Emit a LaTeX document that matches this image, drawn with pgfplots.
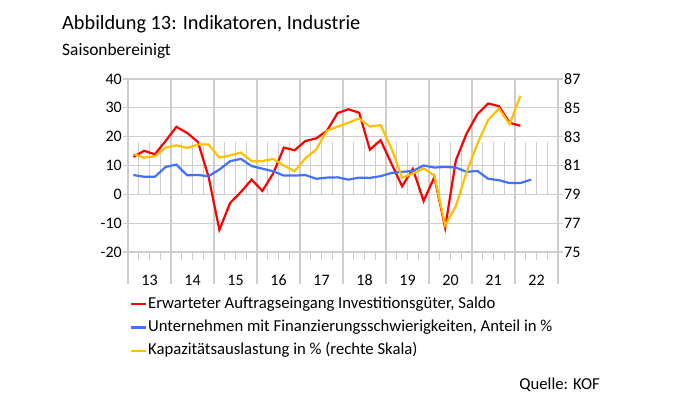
\documentclass[border=0pt]{standalone}
\usepackage{pgfplots}
\pgfplotsset{compat=1.18}
\usepackage{fontspec}
\setmainfont{Carlito}
\definecolor{cred}{RGB}{255,0,0}
\definecolor{cblue}{RGB}{66,112,255}
\definecolor{cyel}{RGB}{255,192,0}
\definecolor{cgrid}{RGB}{205,205,205}

\begin{document}
\begin{tikzpicture}
\path (0,0) rectangle (695bp,-395bp);
\node[anchor=base west,inner sep=0pt,font=\fontsize{20.3bp}{22bp}\selectfont] at (62bp,-29bp) {Abbildung 13: Indikatoren, Industrie};
\node[anchor=base west,inner sep=0pt,font=\fontsize{17.4bp}{19bp}\selectfont] at (62bp,-55bp) {Saisonbereinigt};
\node[anchor=base east,inner sep=0pt,font=\fontsize{16.7bp}{18bp}\selectfont] at (600bp,-389bp) {Quelle: KOF};

\begin{axis}[
  at={(128bp,-252bp)}, anchor=south west,
  scale only axis, width=430bp, height=173bp,
  xmin=0, xmax=40, ymin=-20, ymax=40,
  axis line style={cgrid, line width=1.2bp},
  every tick/.style={cgrid, line width=1.2bp},
  tick align=outside,
  xtick pos=bottom, ytick pos=left,
  xtick={2,6,...,38},
  xticklabels={13,14,15,16,17,18,19,20,21,22},
  major tick length=5bp,
  major x tick style={draw=none},
  minor xtick={1,2,3,5,6,7,9,10,11,13,14,15,17,18,19,21,22,23,25,26,27,29,30,31,33,34,35,37,38,39},
  minor tick length=8bp,
  extra x ticks={0,4,...,40},
  extra x tick labels={},
  extra x tick style={grid=major, major tick length=32bp, major x tick style={draw=cgrid, line width=1.2bp}},
  ytick={-20,-10,0,10,20,30,40},
  yticklabels={-20,-10,0,10,20,30,40},
  ymajorgrids,
  grid style={cgrid, line width=1.2bp},
  ticklabel style={font=\fontsize{16bp}{18bp}\selectfont, text=black, inner xsep=0pt},
  xticklabel style={anchor=base, yshift=-28.7bp},
  yticklabel style={anchor=east, xshift=-1bp},
  clip=false,
  legend style={at={(axis description cs:0.004,-0.254)}, anchor=north west, draw=none, fill=none,
    font=\fontsize{16.7bp}{18bp}\selectfont, row sep=7.3bp, inner sep=0pt,
    nodes={inner xsep=1bp, inner ysep=1bp, text height=11bp, text depth=3bp}},
  legend cell align=left,
  legend image code/.code={\draw[#1] (0bp,0bp) -- (15bp,0bp);},
]
\pgfplotsinvokeforeach{1,2,3,5,6,7,9,10,11,13,14,15,17,18,19,21,22,23,25,26,27,29,30,31,33,34,35,37,38,39}{
  \draw[cgrid, line width=1.2bp] (axis cs:#1,0) -- ++(0,-5bp);
}
\addplot[cred, line width=2.2bp] table {
x y
0.5 13.0
1.5 15.1
2.5 13.9
3.5 18.5
4.5 23.4
5.5 21.3
6.5 18.2
7.5 6.0
8.5 -12.3
9.5 -3.0
10.5 0.8
11.5 5.1
12.5 1.2
13.5 7.2
14.5 16.2
15.5 15.3
16.5 18.5
17.5 19.4
18.5 22.0
19.5 28.2
20.5 29.5
21.5 28.3
22.5 15.5
23.5 18.8
24.5 10.7
25.5 2.8
26.5 8.8
27.5 -2.3
28.5 6.0
29.5 -11.6
30.5 11.8
31.5 21.1
32.5 27.8
33.5 31.5
34.5 30.6
35.5 24.8
36.5 23.8
};
\addlegendentry{Erwarteter Auftragseingang Investitionsgüter, Saldo}
\addplot[cblue, line width=2.2bp] table {
x y
0.5 6.7
1.5 6.1
2.5 6.1
3.5 9.5
4.5 10.3
5.5 6.6
6.5 6.7
7.5 6.3
8.5 8.6
9.5 11.5
10.5 12.3
11.5 9.8
12.5 8.9
13.5 8.0
14.5 6.5
15.5 6.5
16.5 6.7
17.5 5.4
18.5 5.8
19.5 5.9
20.5 5.1
21.5 5.8
22.5 5.7
23.5 6.3
24.5 7.4
25.5 7.8
26.5 8.1
27.5 10.0
28.5 9.3
29.5 9.5
30.5 9.3
31.5 7.8
32.5 8.1
33.5 5.4
34.5 4.9
35.5 3.9
36.5 3.9
37.5 5.1
};
\addlegendentry{Unternehmen mit Finanzierungsschwierigkeiten, Anteil in \%}
\addlegendimage{cyel, line width=2.2bp}
\addlegendentry{Kapazitätsauslastung in \% (rechte Skala)}
\end{axis}

\begin{axis}[
  at={(128bp,-252bp)}, anchor=south west,
  scale only axis, width=430bp, height=173bp,
  xmin=0, xmax=40, ymin=75, ymax=87,
  axis x line=none,
  axis y line*=right,
  axis line style={cgrid, line width=1.2bp},
  every tick/.style={cgrid, line width=1.2bp},
  tick align=outside,
  ytick={75,77,...,87},
  yticklabels={75,77,79,81,83,85,87},
  major tick length=5bp,
  ticklabel style={font=\fontsize{16bp}{18bp}\selectfont, text=black, inner xsep=0pt},
  yticklabel style={anchor=west, xshift=1bp},
  clip=false,
]
\addplot[cyel, line width=2.2bp] table {
x y
0.5 81.8
1.5 81.55
2.5 81.64
3.5 82.24
4.5 82.4
5.5 82.22
6.5 82.45
7.5 82.45
8.5 81.55
9.5 81.7
10.5 81.9
11.5 81.3
12.5 81.3
13.5 81.46
14.5 81.0
15.5 80.6
16.5 81.5
17.5 82.1
18.5 83.4
19.5 83.7
20.5 83.96
21.5 84.26
22.5 83.7
23.5 83.8
24.5 82.2
25.5 80.16
26.5 80.44
27.5 80.8
28.5 80.3
29.5 76.85
30.5 78.2
31.5 80.55
32.5 82.5
33.5 84.15
34.5 84.95
35.5 83.86
36.5 85.84
};
\end{axis}
\end{tikzpicture}
\end{document}
